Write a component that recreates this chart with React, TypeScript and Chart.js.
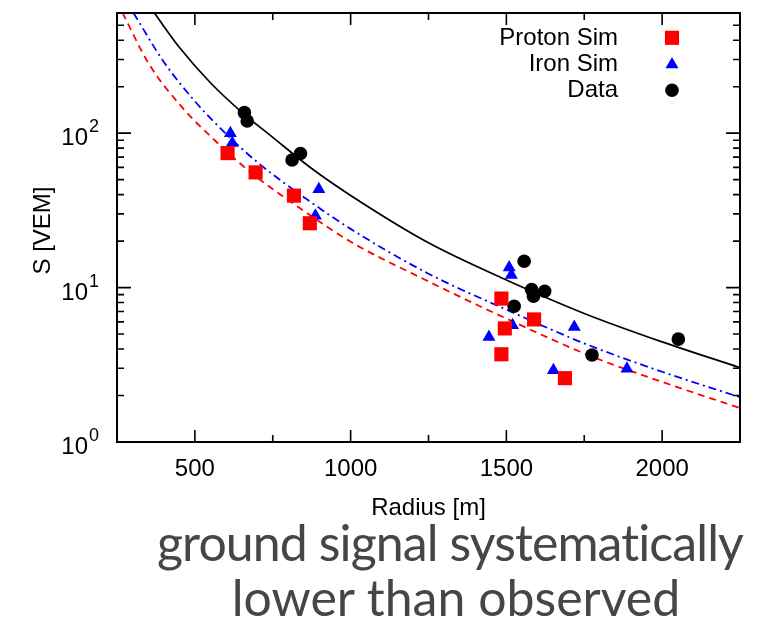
import React, { useEffect, useRef } from "react";
import { Chart, registerables } from "chart.js";
import { drawPoint } from "chart.js/helpers";

Chart.register(...registerables);

// ---- axis ranges & ticks ----
const X_MIN = 250;
const X_MAX = 2250;
const Y_MIN = 1;
const Y_MAX = 600;
const X_MAJOR_TICKS = [500, 1000, 1500, 2000];
const X_MINOR_TICKS = [750, 1250, 1750];
const Y_MAJOR_TICKS = [1, 10, 100];
const Y_TICK_BASE = "10";
const Y_TICK_EXPONENTS = ["0", "1", "2"];
const Y_MINOR_TICKS = [2, 3, 4, 5, 6, 7, 8, 9, 20, 30, 40, 50, 60, 70, 80, 90, 200, 300, 400, 500];

const X_TITLE = "Radius [m]";
const Y_TITLE = "S [VEM]";
const CAPTION_LINES = ["ground signal systematically", "lower than observed"];

// ---- series labels ----
const PROTON_LABEL = "Proton Sim";
const IRON_LABEL = "Iron Sim";
const DATA_LABEL = "Data";

// ---- measured points ----
const PROTON_R = [605, 695, 818, 869, 1484, 1495, 1484, 1589, 1688];
const PROTON_S = [74.3, 55.7, 39.4, 26.1, 8.49, 5.44, 3.7, 6.22, 2.59];

const IRON_R = [614, 620, 898, 887, 1509, 1516, 1520, 1444, 1718, 1651, 1887];
const IRON_S = [100, 86.5, 43.4, 29.2, 13.5, 12.05, 5.7, 4.78, 5.55, 2.92, 2.98];

const DATA_R = [659, 668, 839, 812, 1557, 1581, 1587, 1623, 1525, 1775, 2052];
const DATA_S = [135.8, 120, 73.8, 67, 14.8, 9.7, 8.79, 9.46, 7.57, 3.66, 4.64];

// ---- fitted curves ----
const PROTON_FIT_R = [268, 352, 459, 566, 678, 839, 1000, 1225, 1500, 1771, 2000, 2250];
const PROTON_FIT_S = [600, 282, 147, 89, 56, 32.5, 19.8, 11.6, 6.3, 3.6, 2.45, 1.66];

const IRON_FIT_R = [303, 400, 500, 600, 700, 850, 1000, 1250, 1500, 1750, 2000, 2250];
const IRON_FIT_S = [600, 290, 161, 99, 65, 38.5, 24, 12.3, 7.2, 4.35, 2.85, 1.95];

const DATA_FIT_R = [370, 450, 550, 650, 750, 875, 1000, 1250, 1500, 1750, 2000, 2250];
const DATA_FIT_S = [600, 360, 212, 137, 94, 59, 39.5, 19.5, 11.2, 6.8, 4.45, 3.03];

const zip = (xs: number[], ys: number[]) => xs.map((x, i) => ({ x, y: ys[i] }));

const FONT = "'Liberation Sans', Arial, Helvetica, sans-serif";

const RED = "#ff0000";
const BLUE = "#0000ff";
const BLACK = "#000000";

const LEGEND_ITEMS = [
  { label: PROTON_LABEL, color: RED, pointStyle: "rect", radius: 10 },
  { label: IRON_LABEL, color: BLUE, pointStyle: "triangle", radius: 7.5 },
  { label: DATA_LABEL, color: BLACK, pointStyle: "circle", radius: 6.8 },
];

const framePlugin = {
  id: "framePlugin",
  afterDraw(chart: any) {
    const { ctx, chartArea } = chart;
    const xs = chart.scales.x;
    const ys = chart.scales.y;
    const { left, right, top, bottom } = chartArea;
    ctx.save();
    ctx.strokeStyle = BLACK;
    ctx.lineWidth = 2;
    ctx.strokeRect(left, top, right - left, bottom - top);

    ctx.lineWidth = 1.6;
    ctx.beginPath();
    const xTick = (v: number, len: number) => {
      const px = xs.getPixelForValue(v);
      ctx.moveTo(px, bottom);
      ctx.lineTo(px, bottom - len);
      ctx.moveTo(px, top);
      ctx.lineTo(px, top + len);
    };
    const yTick = (v: number, len: number) => {
      const py = ys.getPixelForValue(v);
      ctx.moveTo(left, py);
      ctx.lineTo(left + len, py);
      ctx.moveTo(right, py);
      ctx.lineTo(right - len, py);
    };
    X_MAJOR_TICKS.forEach((v) => xTick(v, 12));
    X_MINOR_TICKS.forEach((v) => xTick(v, 7));
    Y_MAJOR_TICKS.forEach((v) => yTick(v, 14));
    Y_MINOR_TICKS.forEach((v) => yTick(v, 7));
    ctx.stroke();

    // tick labels
    ctx.fillStyle = BLACK;
    ctx.font = `24px ${FONT}`;
    ctx.textAlign = "center";
    ctx.textBaseline = "alphabetic";
    X_MAJOR_TICKS.forEach((v) => {
      ctx.fillText(String(v), xs.getPixelForValue(v), bottom + 34);
    });
    Y_MAJOR_TICKS.forEach((v, i) => {
      const py = ys.getPixelForValue(v);
      ctx.font = `24px ${FONT}`;
      ctx.textAlign = "right";
      ctx.fillText(Y_TICK_BASE, left - 29, py + 12);
      ctx.font = `18px ${FONT}`;
      ctx.textAlign = "left";
      ctx.fillText(Y_TICK_EXPONENTS[i], left - 28, py - 1);
    });

    // axis titles
    ctx.font = `24px ${FONT}`;
    ctx.textAlign = "center";
    ctx.fillText(X_TITLE, (left + right) / 2, bottom + 73);
    ctx.save();
    ctx.translate(50, (top + bottom) / 2 + 3);
    ctx.rotate(-Math.PI / 2);
    ctx.fillText(Y_TITLE, 0, 0);
    ctx.restore();

    // legend
    LEGEND_ITEMS.forEach((item, i) => {
      const by = 45 + i * 26.2;
      ctx.font = `24px ${FONT}`;
      ctx.textAlign = "right";
      ctx.fillStyle = BLACK;
      ctx.fillText(item.label, right - 122, by);
      ctx.fillStyle = item.color;
      const cy = item.pointStyle === "triangle" ? by - 6.8 : by - 7.2;
      drawPoint(ctx, { pointStyle: item.pointStyle, radius: item.radius, rotation: 0, borderWidth: 0 } as any, right - 68, cy);
    });
    ctx.restore();
  },
};

export default function App() {
  const canvasRef = useRef<HTMLCanvasElement | null>(null);

  useEffect(() => {
    if (!canvasRef.current) return;
    const chart = new Chart(canvasRef.current, {
      type: "scatter",
      data: {
        datasets: [
          {
            label: PROTON_LABEL,
            data: zip(PROTON_R, PROTON_S),
            pointStyle: "rect",
            pointRadius: 10,
            pointBorderWidth: 0,
            backgroundColor: RED,
            borderColor: RED,
            order: 1,
          },
          {
            label: IRON_LABEL,
            data: zip(IRON_R, IRON_S),
            pointStyle: "triangle",
            pointRadius: 7.5,
            pointBorderWidth: 0,
            backgroundColor: BLUE,
            borderColor: BLUE,
            order: 1,
          },
          {
            label: DATA_LABEL,
            data: zip(DATA_R, DATA_S),
            pointStyle: "circle",
            pointRadius: 6.8,
            pointBorderWidth: 0,
            backgroundColor: BLACK,
            borderColor: BLACK,
            order: 1,
          },
          {
            label: PROTON_LABEL + " fit",
            data: zip(PROTON_FIT_R, PROTON_FIT_S),
            showLine: true,
            pointRadius: 0,
            borderColor: RED,
            borderWidth: 1.8,
            borderDash: [7, 5],
            cubicInterpolationMode: "monotone",
            order: 2,
          },
          {
            label: IRON_LABEL + " fit",
            data: zip(IRON_FIT_R, IRON_FIT_S),
            showLine: true,
            pointRadius: 0,
            borderColor: BLUE,
            borderWidth: 1.8,
            borderDash: [8, 4, 2, 4],
            cubicInterpolationMode: "monotone",
            order: 2,
          },
          {
            label: DATA_LABEL + " fit",
            data: zip(DATA_FIT_R, DATA_FIT_S),
            showLine: true,
            pointRadius: 0,
            borderColor: BLACK,
            borderWidth: 1.7,
            cubicInterpolationMode: "monotone",
            order: 2,
          },
        ],
      },
      options: {
        responsive: false,
        animation: false,
        events: [],
        layout: { padding: { left: 117, right: 40, top: 13, bottom: 177 } },
        plugins: { legend: { display: false }, tooltip: { enabled: false } },
        scales: {
          x: { type: "linear", min: X_MIN, max: X_MAX, display: false },
          y: { type: "logarithmic", min: Y_MIN, max: Y_MAX, display: false },
        },
      } as any,
      plugins: [framePlugin],
    });
    return () => chart.destroy();
  }, []);

  const captionStyle: React.CSSProperties = {
    position: "absolute",
    width: 800,
    textAlign: "center",
    fontFamily: "Lato, 'Open Sans', sans-serif",
    fontSize: 50,
    lineHeight: "60px",
    color: "#464646",
    whiteSpace: "nowrap",
    margin: 0,
  };

  return (
    <div style={{ position: "absolute", left: 0, top: 0, width: 780, height: 619, background: "#fff", overflow: "hidden" }}>
      <canvas ref={canvasRef} width={780} height={619} style={{ position: "absolute", left: 0, top: 0 }} />
      <div style={{ ...captionStyle, left: 450 - 400, top: 562 - 50, letterSpacing: "-0.9px" }}>{CAPTION_LINES[0]}</div>
      <div style={{ ...captionStyle, left: 456 - 400, top: 616 - 49 }}>{CAPTION_LINES[1]}</div>
    </div>
  );
}
